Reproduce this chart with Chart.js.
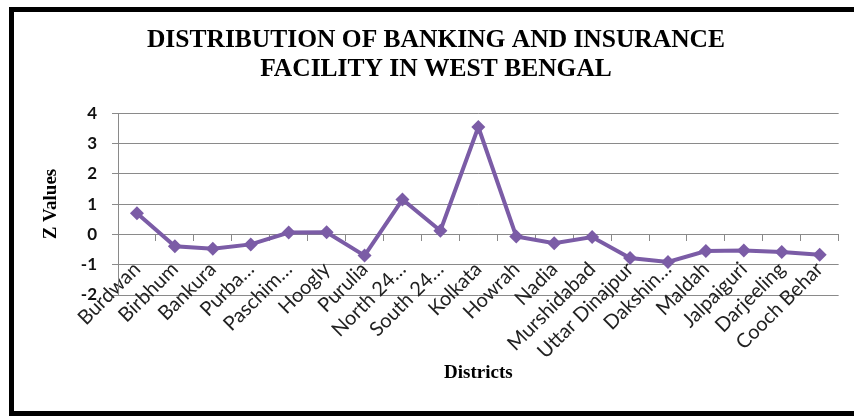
<!DOCTYPE html>
<html><head><meta charset="utf-8">
<script src="https://cdn.jsdelivr.net/npm/chart.js@4/dist/chart.umd.min.js"></script>
<style>html,body{margin:0;padding:0;background:#fff;}</style>
</head><body>
<canvas id="c" width="854" height="416" style="display:block;width:854px;height:416px"></canvas>
<script>
const districts = ['Burdwan','Birbhum','Bankura','Purba…','Paschim…','Hoogly','Purulia','North 24…','South 24…','Kolkata','Howrah','Nadia','Murshidabad','Uttar Dinajpur','Dakshin…','Maldah','Jalpaiguri','Darjeeling','Cooch Behar'];
const zValues = [0.70,-0.39,-0.47,-0.33,0.06,0.07,-0.70,1.15,0.12,3.54,-0.07,-0.29,-0.09,-0.78,-0.91,-0.55,-0.53,-0.58,-0.67];
const yMin = -2, yMax = 4, yStep = 1;
const chartTitle = ['DISTRIBUTION OF BANKING AND INSURANCE','FACILITY IN WEST BENGAL'];
const xTitle = 'Districts';
const yTitle = 'Z Values';

const framePlugin = {
  id: 'frame',
  beforeDraw(chart){
    const c = chart.ctx;
    c.save(); c.fillStyle = '#fff'; c.fillRect(0,0,chart.width,chart.height); c.restore();
  },
  afterDraw(chart){
    const c = chart.ctx;
    c.save();
    c.fillStyle = '#000';
    c.fillRect(9,7,845,5);
    c.fillRect(9,7,5,409);
    c.fillRect(9,411,845,5);
    c.restore();
  }
};

new Chart(document.getElementById('c'), {
  type: 'line',
  data: {
    labels: districts,
    datasets: [{
      data: zValues,
      borderColor: '#7B5CA6',
      backgroundColor: '#7B5CA6',
      borderWidth: 4,
      pointStyle: 'rectRot',
      pointRadius: 7,
      pointBorderWidth: 0,
      tension: 0,
      fill: false
    }]
  },
  options: {
    responsive: false,
    animation: false,
    layout: { padding: { left: 31, right: 13, top: 0, bottom: 121 } },
    plugins: {
      legend: { display: false },
      tooltip: { enabled: false },
      title: {
        display: true,
        text: chartTitle,
        color: '#000',
        font: { family: 'Liberation Serif', size: 25.5, weight: 'bold', lineHeight: 1.14 },
        padding: { top: 26, bottom: 29 }
      }
    },
    scales: {
      x: {
        position: { y: 0 },
        offset: true,
        grid: { drawOnChartArea: false, offset: true, drawTicks: true, tickLength: 6, color: '#8a8a8a' },
        border: { display: true, color: '#8a8a8a', width: 1 },
        ticks: {
          autoSkip: false, minRotation: 45, maxRotation: 45,
          color: '#222', padding: 17,
          font: { family: 'Lato', size: 20 }
        },
        title: {
          display: true, text: xTitle, color: '#000',
          font: { family: 'Liberation Serif', size: 19, weight: 'bold' },
          padding: { top: 0, bottom: 0 }
        },
        afterFit(s){ s.height = 150; }
      },
      y: {
        min: yMin, max: yMax,
        grid: { color: '#8a8a8a', lineWidth: 1, drawTicks: true, tickLength: 6 },
        border: { display: true, color: '#8a8a8a', width: 1 },
        ticks: {
          stepSize: yStep, color: '#111', padding: 15,
          font: { family: 'Lato', size: 17, weight: 'bold' }
        },
        title: {
          display: true, text: yTitle, color: '#000',
          font: { family: 'Liberation Serif', size: 19, weight: 'bold' },
          padding: { top: 9, bottom: 0 }
        },
        afterFit(s){ s.width = 87; }
      }
    }
  },
  plugins: [framePlugin]
});
</script>
</body></html>
